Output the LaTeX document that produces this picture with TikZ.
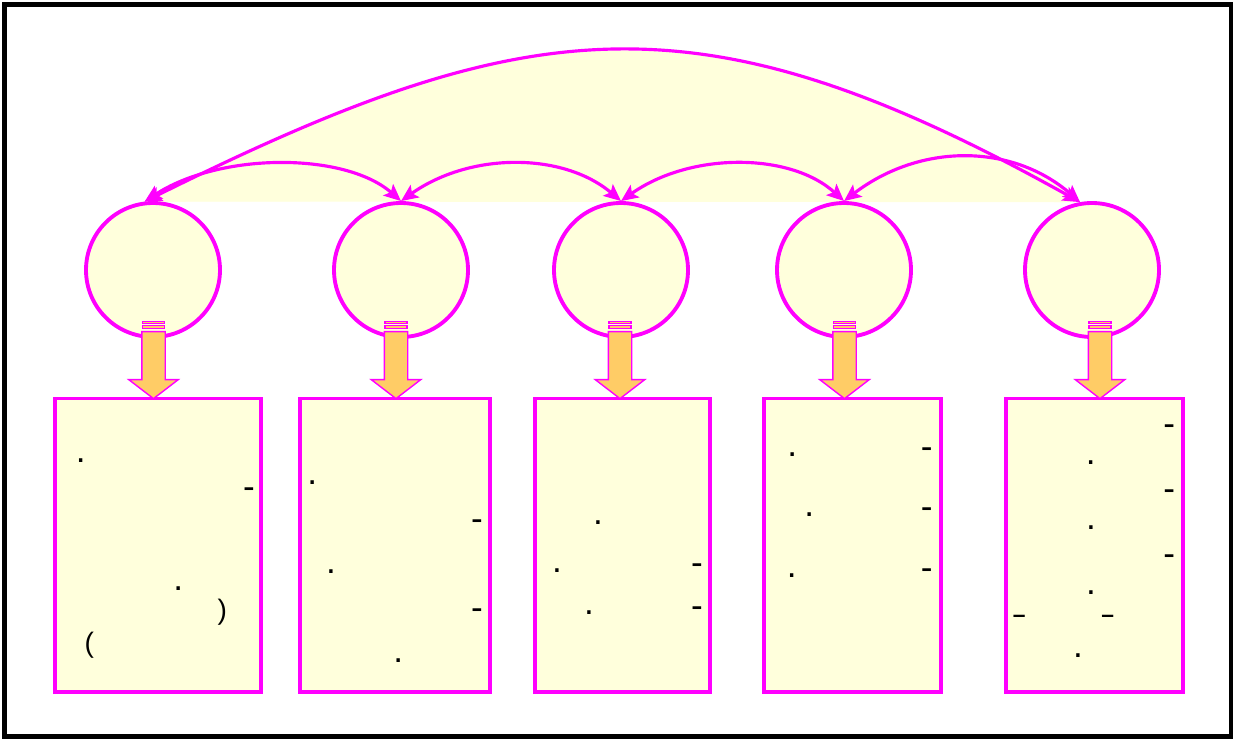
\documentclass[tikz,border=0pt]{standalone}
\usepackage{fontspec}
\setmainfont{Liberation Sans}
\usepackage{tikz}
\usetikzlibrary{calc,arrows.meta,shapes.arrows,backgrounds}
\definecolor{mag}{RGB}{255,0,255}
\definecolor{paleyel}{RGB}{255,255,220}
\definecolor{orng}{RGB}{255,204,102}
\tikzset{
bubble/.style={circle,draw=mag,line width=2.2pt,fill=paleyel,minimum size=26.8mm,inner sep=0pt},
card/.style={rectangle,draw=mag,line width=2.2pt,fill=paleyel,inner sep=0pt,minimum height=58.7mm},
link/.style={draw=mag,line width=1.8pt,{Stealth[length=3.4mm,width=3mm,inset=0.7mm]}-{Stealth[length=3.4mm,width=3mm,inset=0.7mm]}},
flow/.style={single arrow,draw=mag,fill=orng,line width=0.8pt,rotate=-90,anchor=tip,minimum height=13.4mm,minimum width=9.6mm,single arrow head extend=2.6mm,single arrow tip angle=105,inner sep=2.2mm},
stripe/.style={rectangle,draw=mag,fill=orng,line width=0.6pt,minimum width=4.4mm,inner sep=0pt,anchor=south},
dotmark/.style={inner sep=0pt,font=\fontsize{20}{24}\selectfont},
hymark/.style={inner sep=0pt,yshift=-0.8mm,font=\fontsize{20}{24}\selectfont},
enmark/.style={inner sep=0pt,font=\bfseries\fontsize{13}{15}\selectfont},
parmark/.style={inner sep=0pt,font=\fontsize{16}{18}\selectfont}
}
\begin{document}
\begin{tikzpicture}[x=0.2mm,y=-0.2mm]
\useasboundingbox (0,0) rectangle (1233,740);
\draw[line width=0.9mm] (4.5,4.5) rectangle (1231,736.5);
\node[bubble] (c1) at (153,270) {};
\node[bubble] (c2) at (401,270) {};
\node[bubble] (c3) at (621,270) {};
\node[bubble] (c4) at (844,270) {};
\node[bubble] (c5) at (1092,270) {};
\node[card,minimum width=41.1mm] (b1) at (158,545.3) {};
\node[card,minimum width=38mm] (b2) at (395.3,545.3) {};
\node[card,minimum width=35mm] (b3) at (622.5,545.3) {};
\node[card,minimum width=35.4mm] (b4) at (852.2,545.3) {};
\node[card,minimum width=35.4mm] (b5) at (1094.5,545.3) {};
\begin{scope}[on background layer]
\fill[paleyel] (c1.97) .. controls (530,10) and (700,-10) .. (c5.100) -- cycle;
\fill[paleyel] (c1.97) .. controls (220,152) and (345,152) .. (c2.north) -- cycle;
\fill[paleyel] (c4.north) .. controls (920,143) and (1012,143) .. (c5.100) -- cycle;
\end{scope}
\draw[link] (c1.97) .. controls (530,10) and (700,-10) .. (c5.100);
\draw[link] (c1.97) .. controls (220,152) and (345,152) .. (c2.north);
\draw[link] (c2.north) .. controls (470,152) and (563,152) .. (c3.north);
\draw[link] (c3.north) .. controls (690,152) and (790,152) .. (c4.north);
\draw[link] (c4.north) .. controls (920,143) and (1012,143) .. (c5.100);
\node[flow] (a1) at (153.5,399.5) {};
\node[flow] (a2) at (396,399.5) {};
\node[flow] (a3) at (620,399.5) {};
\node[flow] (a4) at (844.5,399.5) {};
\node[flow] (a5) at (1100,399.5) {};
\foreach \a in {a1,a2,a3,a4,a5}{
\node[stripe,minimum height=0.6mm] (\a-s) at ($(\a.tail)+(0,0.3mm)$) {};
\node[stripe,minimum height=0.4mm] (\a-t) at ($(\a-s.north)+(0,0.2mm)$) {};
}
\node[dotmark] (m1) at (80.7,460.3) {.};
\node[hymark] (m2) at (249,489) {-};
\node[dotmark] (m3) at (178.3,588.3) {.};
\node[parmark] (m4) at (222.3,612.7) {)};
\node[parmark] (m5) at (89.3,645) {(};
\node[dotmark] (m6) at (312.3,482.3) {.};
\node[hymark] (m7) at (477,521) {-};
\node[dotmark] (m8) at (331,571.3) {.};
\node[hymark] (m9) at (477,610) {-};
\node[dotmark] (m10) at (398.3,660.3) {.};
\node[dotmark] (m11) at (598,523) {.};
\node[dotmark] (m12) at (557,571) {.};
\node[hymark] (m13) at (697,565) {-};
\node[dotmark] (m14) at (589,613) {.};
\node[hymark] (m15) at (697,608) {-};
\node[dotmark] (m16) at (792.3,454.3) {.};
\node[hymark] (m17) at (926.7,449.3) {-};
\node[dotmark] (m18) at (809.3,514.3) {.};
\node[hymark] (m19) at (926.7,509) {-};
\node[dotmark] (m20) at (791.7,575.3) {.};
\node[hymark] (m21) at (926.7,570.3) {-};
\node[hymark] (m22) at (1169.3,426) {-};
\node[dotmark] (m23) at (1090.7,462.3) {.};
\node[hymark] (m24) at (1169.3,491) {-};
\node[dotmark] (m25) at (1091,527.3) {.};
\node[hymark] (m26) at (1169.3,556) {-};
\node[dotmark] (m27) at (1091,592.3) {.};
\node[enmark] (m28) at (1019.3,619.3) {–};
\node[enmark] (m29) at (1107.7,619.3) {–};
\node[dotmark] (m30) at (1078,655.3) {.};
\end{tikzpicture}
\end{document}
